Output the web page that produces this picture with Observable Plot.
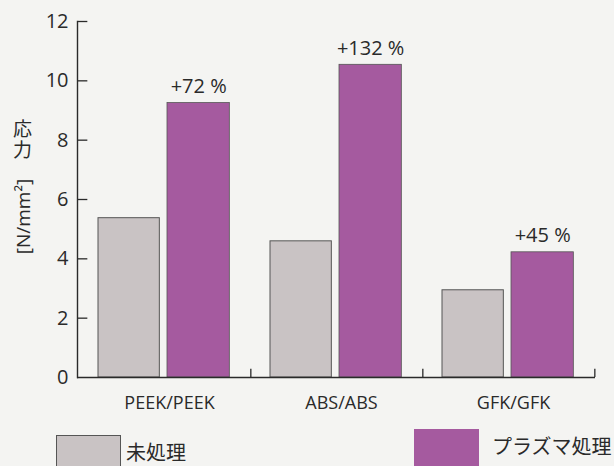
<!DOCTYPE html>
<html>
<head>
<meta charset="utf-8">
<script src="https://cdn.jsdelivr.net/npm/d3@7"></script>
<script src="https://cdn.jsdelivr.net/npm/@observablehq/plot@0.6"></script>
<style>
  html, body { margin: 0; padding: 0; background: #f4f4f2; overflow: hidden; }
  #wrap { position: relative; width: 614px; height: 466px; overflow: hidden; font-family: "Open Sans", "Noto Sans CJK JP", sans-serif; color: #2a2a2a; }
  #chart svg { display: block; background: transparent; }
  .sw { position: absolute; box-sizing: border-box; }
  .lt { position: absolute; font-size: 20px; line-height: 20px; font-family: "Noto Sans CJK JP", sans-serif; color: #2a2a2a; white-space: nowrap; }
</style>
</head>
<body>
<div id="wrap">
  <div id="chart"></div>
  <div id="legend"></div>
</div>
<script>
const categories = ["PEEK/PEEK", "ABS/ABS", "GFK/GFK"];
const untreated = [5.37, 4.59, 2.94];
const plasma = [9.25, 10.54, 4.22];
const gains = ["+72 %", "+132 %", "+45 %"];
const yTicks = [0, 2, 4, 6, 8, 10, 12];
const seriesNames = ["未処理", "プラズマ処理"];
const seriesColors = ["#c9c3c4", "#a55a9f"];
const yLabelJa = ["応", "力"];
const yLabelUnit = "[N/mm²]";

const rows = categories.map((c, i) => ({cat: c, u: untreated[i], p: plasma[i], g: gains[i]}));

const W = 614, H = 424, ML = 77, MR = 19, MT = 21, MB = 47;
const bw = (W - ML - MR) / categories.length;

const chart = Plot.plot({
  width: W,
  height: H,
  marginLeft: ML,
  marginRight: MR,
  marginTop: MT,
  marginBottom: MB,
  style: {background: "transparent", fontFamily: "'Open Sans', 'Noto Sans CJK JP', sans-serif", color: "#2a2a2a"},
  x: {domain: categories, padding: 0, label: null},
  y: {domain: [0, 12], label: null},
  marks: [
    Plot.barY(rows, {x: "cat", y: "u", fill: seriesColors[0], stroke: "#555", strokeWidth: 1, insetLeft: 20, insetRight: bw - 82}),
    Plot.barY(rows, {x: "cat", y: "p", fill: seriesColors[1], stroke: "#555", strokeWidth: 0.8, insetLeft: 89, insetRight: bw - 152}),
    Plot.text(rows, {x: "cat", y: "p", text: "g", dx: 120.5 - bw / 2, dy: -10, lineAnchor: "bottom", fontSize: 20, fill: "#2a2a2a"}),
    Plot.ruleX(rows, {x: "cat", dx: bw / 2, y1: 0, y2: 0.28, stroke: "#2a2a2a", strokeWidth: 1.3}),
    Plot.ruleY([0], {stroke: "#2a2a2a", strokeWidth: 1.4}),
    Plot.frame({anchor: "left", stroke: "#2a2a2a", strokeWidth: 1.4}),
    Plot.axisY({ticks: yTicks, tickSize: 0, tickPadding: 9, fontSize: 20, label: null}),
    Plot.tickY(yTicks.slice(1), {y: d => d, x: () => categories[0], insetRight: bw - 10, stroke: "#2a2a2a", strokeWidth: 1.3}),
    Plot.axisX({tickSize: 0, tickPadding: 19, fontSize: 18, dx: 5, label: null}),
    Plot.text([yLabelJa[0]], {frameAnchor: "top-left", textAnchor: "middle", dx: -55, dy: 101, lineAnchor: "top", fontSize: 19, fill: "#2a2a2a", fontFamily: "'Noto Sans CJK JP', sans-serif"}),
    Plot.text([yLabelJa[1]], {frameAnchor: "top-left", textAnchor: "middle", dx: -55, dy: 122, lineAnchor: "top", fontSize: 19, fill: "#2a2a2a", fontFamily: "'Noto Sans CJK JP', sans-serif"}),
    Plot.text([yLabelUnit], {frameAnchor: "left", textAnchor: "middle", rotate: -90, dx: -54, dy: 17, fontSize: 19, fill: "#2a2a2a"})
  ]
});
document.getElementById("chart").appendChild(chart);

// legend below the SVG
const legend = document.getElementById("legend");
const legendPos = [
  {sx: 56, sy: 435, sw: 65, tx: 126, ty: 442, border: "1px solid #555"},
  {sx: 414, sy: 429, sw: 65, tx: 492, ty: 436, border: "none"}
];
seriesNames.forEach((name, i) => {
  const p = legendPos[i];
  const sw = document.createElement("div");
  sw.className = "sw";
  Object.assign(sw.style, {left: p.sx + "px", top: p.sy + "px", width: p.sw + "px", height: "40px", background: seriesColors[i], border: p.border});
  legend.appendChild(sw);
  const t = document.createElement("div");
  t.className = "lt";
  t.textContent = name;
  Object.assign(t.style, {left: p.tx + "px", top: p.ty + "px"});
  legend.appendChild(t);
});
</script>
</body>
</html>
